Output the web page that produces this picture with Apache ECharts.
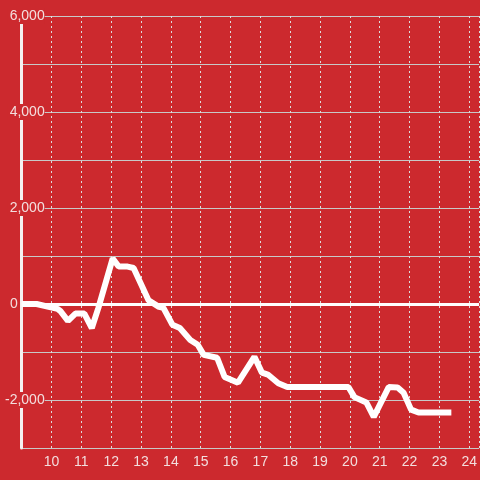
<!DOCTYPE html>
<html>
<head>
<meta charset="utf-8">
<script src="https://cdn.jsdelivr.net/npm/echarts@6/dist/echarts.min.js"></script>
<style>
html,body{margin:0;padding:0;background:#cc292e;}
#c{width:480px;height:480px;}
</style>
</head>
<body>
<div id="c"></div>
<script>
const xValues = [9, 9.5, 10.2, 10.3, 10.55, 10.8, 11.1, 11.35, 11.57, 12.05, 12.25, 12.55, 12.75, 13.25, 13.6, 13.75, 14.05, 14.3, 14.65, 14.9, 15.1, 15.55, 15.8, 16.25, 16.8, 17.05, 17.25, 17.6, 17.9, 19.95, 20.15, 20.55, 20.8, 21.3, 21.6, 21.8, 22.05, 22.3, 23.4];
const yValues = [0, 0, -100, -150, -350, -200, -200, -500, -80, 950, 780, 780, 750, 80, -60, -80, -430, -500, -750, -850, -1060, -1120, -1520, -1640, -1100, -1430, -1470, -1650, -1730, -1730, -1940, -2050, -2350, -1730, -1740, -1850, -2200, -2260, -2260];
const yTickLabels = [6000, 4000, 2000, 0, -2000];

const BG = '#cc292e';
const TXT = '#f3dede';
const chart = echarts.init(document.getElementById('c'));
const data = xValues.map((x, i) => [x, yValues[i]]);
chart.setOption({
  backgroundColor: BG,
  animation: false,
  grid: {left: 20, right: 0, top: 16, bottom: 32, containLabel: false},
  xAxis: {
    type: 'value', min: 9, max: 24.33, interval: 1,
    axisLine: {show: false, onZero: false},
    axisTick: {show: false},
    axisLabel: {color: TXT, fontFamily: 'Liberation Sans', fontSize: 14, margin: 7, showMinLabel: false, showMaxLabel: false,
      formatter: v => String(v)},
    splitLine: {show: true, lineStyle: {color: '#dddddd', width: 1, type: [2, 3]}}
  },
  yAxis: {
    type: 'value', min: -3000, max: 6000, interval: 1000,
    axisLine: {show: true, lineStyle: {color: '#f5f0f0', width: 3}},
    axisTick: {show: false},
    axisLabel: {
      margin: -23, color: TXT, fontFamily: 'Liberation Sans', fontSize: 14,
      formatter: v => {
        if (!yTickLabels.includes(v)) return '';
        if (v === 0) return '{z|0}';
        return '{b|' + v.toLocaleString('en-US') + '}';
      },
      rich: {
        b: {backgroundColor: BG, color: TXT, fontFamily: 'Liberation Sans', fontSize: 14, padding: [1, 0, 1, 2]},
        z: {color: TXT, fontFamily: 'Liberation Sans', fontSize: 14, padding: [0, 27, 0, 0]}
      }
    },
    splitLine: {show: true, lineStyle: {color: '#c8c8c8', width: 1}}
  },
  series: [{
    type: 'line', data: data, showSymbol: false, symbol: 'none',
    lineStyle: {color: '#ffffff', width: 6},
    markLine: {
      silent: true, symbol: 'none', label: {show: false},
      lineStyle: {color: '#ffffff', width: 3, type: 'solid'},
      data: [{yAxis: 0}]
    }
  }]
});
</script>
</body>
</html>
